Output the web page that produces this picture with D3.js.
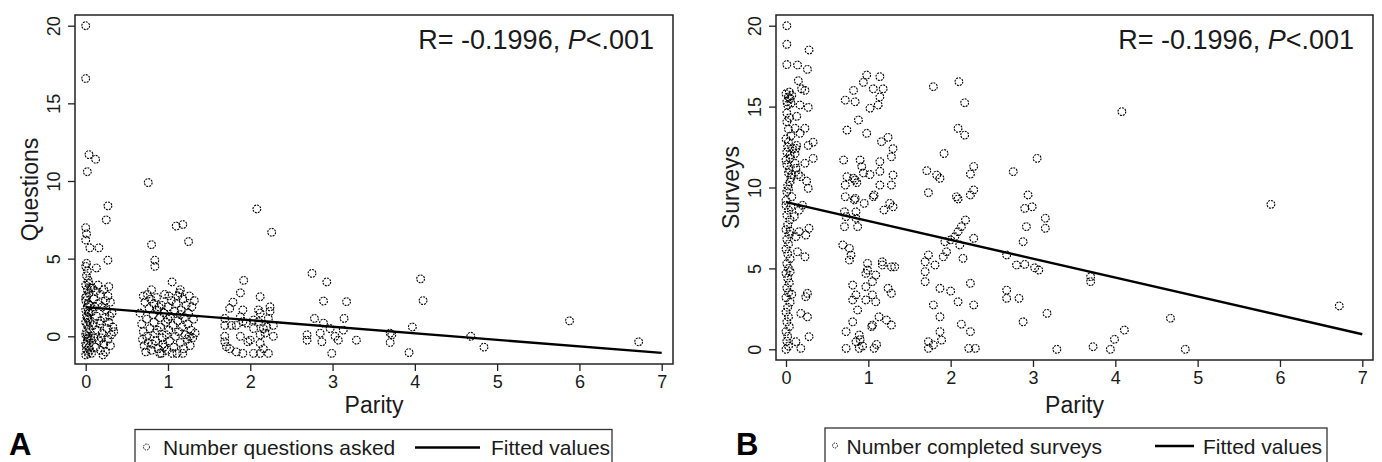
<!DOCTYPE html>
<html>
<head>
<meta charset="utf-8">
<script src="https://cdn.jsdelivr.net/npm/d3@7"></script>
<style>
  body { margin: 0; background: #fff; }
  svg { display: block; font-family: "Liberation Sans", Arial, sans-serif; }
</style>
</head>
<body>
<div id="chart"></div>
<script>
// Panel A: number of questions asked vs parity (jittered points)
const questionsData = [
  // parity ~0
  [0.00,20.0],[0.00,16.6],[0.02,10.6],[0.04,11.7],[0.12,11.4],
  [0.00,7.0],[0.01,6.6],[0.00,6.2],[0.05,5.7],[0.16,5.7],[0.13,4.4],[0.25,7.5],[0.27,8.4],[0.27,4.9],[0.01,4.7],
  [0.00,4.5],[0.02,4.2],[0.01,3.9],[0.03,3.6],[0.00,3.3],[0.02,3.0],[0.04,2.8],[0.01,2.6],[0.00,2.3],[0.03,2.1],
  [0.02,1.9],[0.00,1.7],[0.04,1.5],[0.01,1.3],[0.03,1.1],[0.00,0.9],[0.02,0.7],[0.04,0.5],[0.01,0.3],[0.00,0.1],
  [0.03,-0.1],[0.02,-0.3],[0.00,-0.5],[0.04,-0.7],[0.01,-0.9],[0.03,-1.1],[0.00,-1.2],[0.02,1.2],[0.05,2.0],
  [0.05,0.9],[0.06,-0.2],[0.05,-0.9],[0.06,3.1],[0.00,2.5],[0.02,0.0],[0.01,-0.6],[0.03,1.6],[0.04,3.4],
  [0.08,3.1],[0.12,2.9],[0.18,2.7],[0.22,3.0],[0.27,2.6],[0.30,2.2],[0.10,2.4],[0.15,2.1],[0.20,1.9],[0.25,1.7],
  [0.32,1.5],[0.08,1.6],[0.13,1.3],[0.18,1.0],[0.23,1.2],[0.28,0.9],[0.33,0.6],[0.09,0.7],[0.14,0.4],[0.20,0.2],
  [0.26,0.5],[0.31,0.1],[0.10,-0.1],[0.16,-0.3],[0.22,-0.5],[0.27,-0.2],[0.12,-0.7],[0.18,-0.9],[0.24,-1.0],
  [0.30,-0.6],[0.07,-1.1],[0.21,-1.2],[0.11,1.9],[0.17,0.8],[0.29,1.3],[0.24,2.3],[0.06,0.0],[0.19,-0.1],
  [0.34,0.3],[0.15,3.3],[0.28,3.2],
  // parity ~1
  [0.76,9.9],[0.80,5.9],[0.84,4.9],[0.84,4.5],[1.10,7.1],[1.18,7.2],[1.25,6.1],[1.05,3.5],[1.15,3.0],
  [0.66,1.5],[0.70,2.6],[0.72,2.2],[0.68,0.8],[0.70,0.3],[0.69,-0.2],[0.71,-0.6],[0.74,1.1],[0.75,2.7],
  [0.77,1.8],[0.78,0.5],[0.76,-0.4],[0.80,-0.9],[0.79,2.4],[0.82,1.4],[0.83,0.9],[0.84,0.2],[0.85,-0.3],
  [0.86,2.5],[0.87,1.7],[0.88,-0.8],[0.90,-1.1],[0.90,1.2],[0.91,0.6],[0.92,2.0],[0.93,-0.1],[0.94,-0.5],
  [0.95,1.5],[0.96,2.7],[0.97,0.9],[0.98,0.1],[0.99,-0.9],[1.00,1.9],[1.01,0.4],[1.02,-0.3],[1.03,1.3],
  [1.04,2.3],[1.06,0.7],[1.07,-0.7],[1.08,1.6],[1.09,0.0],[1.10,2.1],[1.11,-1.1],[1.12,1.0],[1.13,0.3],
  [1.14,2.8],[1.15,-0.4],[1.16,1.7],[1.17,0.6],[1.18,2.4],[1.19,-0.8],[1.20,1.2],[1.21,0.1],[1.22,2.0],
  [1.23,-0.2],[1.24,0.8],[1.25,1.5],[1.26,2.6],[1.27,-0.6],[1.28,0.4],[1.29,1.9],[1.30,-0.1],[1.31,1.1],
  [1.32,2.3],[1.33,0.2],[0.73,-1.0],[0.81,-0.5],[0.89,1.9],[1.00,1.1],[1.05,-1.1],[1.15,1.4],[0.95,-0.7],
  [1.12,2.6],[1.26,0.0],[0.87,0.4],[0.80,3.0],[0.74,0.0],[0.92,-1.1],[1.18,-1.1],[1.01,2.6],[0.83,2.1],
  // parity ~2
  [2.08,8.2],[2.26,6.7],[1.92,3.6],[1.88,2.8],[2.12,2.55],[1.79,2.2],[1.75,1.8],[1.91,1.7],[2.10,1.7],
  [2.24,1.9],[2.24,1.6],[1.69,1.15],[1.69,0.7],[1.77,0.7],[1.83,0.7],[1.91,0.95],[2.04,0.5],[2.10,0.95],
  [2.16,0.5],[2.22,1.15],[2.28,0.7],[2.28,0.0],[1.69,0.0],[1.69,-0.35],[1.88,0.0],[2.00,-0.25],[2.12,0.1],
  [2.12,-0.45],[1.75,-0.8],[1.83,-1.0],[1.91,-1.1],[2.04,-1.1],[2.12,-1.1],[2.22,-1.1],[2.16,-0.8],
  [1.97,-0.35],[2.20,0.6],[2.12,1.5],[2.04,1.05],[1.95,0.85],[2.18,0.2],[1.88,1.25],[1.71,-0.67],
  // parity 3 and above
  [2.75,4.05],[2.93,3.5],[2.89,2.27],[3.17,2.23],[2.78,1.15],[3.14,1.15],[2.89,0.85],[2.69,0.1],[2.69,-0.25],
  [2.85,0.2],[2.87,-0.35],[3.03,0.0],[3.07,-0.25],[3.13,0.4],[3.29,-0.25],[2.99,-1.1],[2.97,0.5],
  [3.70,0.2],[3.70,-0.4],[3.72,0.1],[3.97,0.6],[4.07,3.7],[4.10,2.3],[3.93,-1.05],[4.68,0.0],[4.84,-0.7],
  [5.88,1.0],[6.72,-0.35]
];

// Panel B: number of completed surveys vs parity
const surveysData = [
  // parity ~0
  [0.01,20.0],[0.01,18.85],[0.01,17.6],[0.14,17.57],[0.28,18.5],[0.26,17.3],[0.15,16.6],[0.19,16.1],[0.23,16.0],
  [0.00,15.8],[0.03,15.6],[0.05,15.5],[0.01,15.3],[0.07,15.7],[0.04,15.9],[0.02,15.1],[0.06,15.2],
  [0.17,15.1],[0.27,14.95],[0.13,14.4],[0.01,14.07],[0.04,14.3],[0.11,13.66],[0.23,13.66],[0.17,13.35],
  [0.03,12.8],[0.13,12.6],[0.27,12.6],[0.33,12.8],[0.01,12.2],[0.11,12.1],[0.33,11.8],[0.23,11.5],[0.11,11.5],
  [0.01,11.4],[0.03,10.9],[0.15,10.8],[0.25,10.4],[0.27,9.95],[0.05,10.35],[0.01,9.74],[0.07,9.43],
  [0.00,13.0],[0.02,12.5],[0.05,12.0],[0.00,11.7],[0.04,11.1],[0.06,10.6],[0.02,10.1],[0.00,9.2],[0.03,13.6],
  [0.06,13.2],[0.01,14.6],[0.05,11.8],[0.08,12.4],[0.07,10.8],[0.03,9.9],[0.12,12.42],[0.12,11.19],[0.18,10.67],
  [0.00,8.9],[0.03,8.6],[0.01,8.3],[0.05,8.0],[0.02,7.7],[0.00,7.4],[0.04,7.1],[0.01,6.8],[0.03,6.5],[0.00,6.2],
  [0.02,5.9],[0.05,5.6],[0.01,5.3],[0.03,5.0],[0.00,4.7],[0.02,4.4],[0.04,4.1],[0.01,3.8],[0.03,3.5],[0.00,3.2],
  [0.05,2.9],[0.02,2.6],[0.00,2.3],[0.03,2.0],[0.01,1.7],[0.04,1.4],[0.00,1.1],[0.02,0.8],[0.01,0.5],[0.03,0.2],
  [0.00,0.0],[0.05,7.3],[0.06,8.8],[0.07,3.4],[0.05,4.8],
  [0.16,8.6],[0.28,7.48],[0.24,7.06],[0.16,7.27],[0.12,6.96],[0.14,6.03],[0.23,5.72],[0.26,3.46],[0.24,3.25],
  [0.18,2.22],[0.26,2.01],[0.28,0.78],[0.12,0.47],[0.18,0.06],[0.10,8.2],[0.20,8.9],
  // parity ~1
  [0.72,15.4],[0.84,15.3],[0.82,16.0],[0.94,16.5],[0.98,16.95],[1.14,16.85],[1.06,16.1],[1.18,16.1],[1.14,15.6],
  [1.12,15.1],[1.02,14.9],[0.74,13.55],[0.88,14.17],[0.98,13.35],[1.16,12.83],[1.24,13.1],[1.30,12.4],[1.28,11.9],
  [0.70,11.7],[0.90,11.7],[0.92,11.3],[0.94,10.9],[1.14,11.6],[1.14,11.0],[1.02,10.8],[0.74,10.67],[0.82,10.57],
  [0.84,10.46],[0.72,10.15],[0.86,10.3],[1.30,10.77],[1.28,10.15],[1.14,10.15],[1.06,9.43],[0.72,9.43],[0.84,9.33],
  [0.83,9.23],[0.95,9.02],[1.07,9.54],[1.26,9.02],[1.19,8.61],[1.30,8.81],[0.71,8.5],[0.73,8.2],[0.85,8.5],
  [0.85,8.1],[0.71,7.58],[0.87,7.58],[0.69,6.45],[0.77,6.24],[0.79,5.83],[0.77,5.52],[0.99,5.31],[0.99,4.9],
  [0.97,4.69],[1.17,5.41],[1.17,5.21],[1.28,5.1],[1.32,5.1],[1.09,4.59],[1.05,4.18],[0.81,3.97],[0.97,3.87],
  [1.24,3.77],[1.28,3.46],[0.85,3.36],[1.05,3.36],[0.81,3.05],[0.97,3.05],[1.09,2.94],[0.87,2.43],[0.81,1.7],
  [1.13,2.01],[1.22,1.81],[1.28,1.5],[1.05,1.5],[0.89,0.88],[0.73,1.09],[0.73,0.06],[0.85,0.47],[0.89,0.06],
  [1.07,0.06],[0.93,0.2],[1.10,0.3],[0.90,0.6],[1.04,1.4],
  // parity ~2
  [1.79,16.23],[2.10,16.54],[2.17,15.24],[2.09,13.66],[2.17,13.24],[1.92,12.1],[1.71,11.04],[1.83,10.77],
  [1.87,10.57],[2.28,11.3],[2.24,10.83],[1.73,9.68],[2.07,9.43],[2.28,9.85],[2.24,9.54],[2.09,9.29],[2.18,7.99],
  [2.13,7.58],[2.09,7.27],[2.05,6.96],[2.00,6.76],[1.93,6.65],[2.11,6.45],[2.28,6.86],[2.15,5.62],[1.73,5.83],
  [1.69,5.41],[1.91,5.72],[1.95,6.03],[1.81,5.21],[1.69,4.8],[1.69,4.18],[2.24,4.08],[1.87,3.77],[2.00,3.6],
  [2.09,2.94],[1.79,2.74],[2.28,2.74],[1.87,2.01],[2.13,1.55],[2.24,1.09],[1.87,1.09],[1.89,0.57],[1.73,0.47],
  [1.73,0.06],[1.79,0.27],[2.22,0.06],[2.30,0.06],
  // parity 3 and above
  [2.76,10.98],[3.05,11.8],[2.94,9.54],[2.90,8.71],[2.99,8.81],[3.15,8.1],[3.15,7.48],[2.92,7.58],[2.88,6.65],
  [2.68,5.83],[2.80,5.21],[2.90,5.25],[3.02,5.04],[3.07,4.9],[2.68,3.66],[2.68,3.15],[2.83,3.15],[3.17,2.22],
  [2.88,1.7],[3.29,0.0],[3.70,4.49],[3.70,4.18],[3.73,0.16],[3.94,0.0],[3.99,0.62],[4.08,14.69],[5.89,8.96],
  [6.72,2.68],[4.67,1.92],[4.11,1.19],[4.85,0.0]
];

// fitted regression lines (endpoints at parity 0 and 7)
const fittedA = [[0, 1.88], [7, -1.07]];
const fittedB = [[0, 9.1], [7, 0.93]];

const xTicks = [0, 1, 2, 3, 4, 5, 6, 7];
const yTicks = [0, 5, 10, 15, 20];
const annotation = "R= -0.1996, ";

const width = 1382, height = 462;
const svg = d3.select("#chart")
    .append("svg")
    .attr("width", width)
    .attr("height", height);

const ink = "#1a1a1a";

function drawPanel(cfg) {
    const g = svg.append("g");

    const x = d3.scaleLinear().domain([0, 7]).range(cfg.xRange);
    const y = d3.scaleLinear().domain([0, 20]).range(cfg.yRange);

    // points
    g.selectAll("circle.pt")
        .data(cfg.data)
        .enter()
        .append("circle")
        .attr("class", "pt")
        .attr("cx", d => x(d[0]))
        .attr("cy", d => y(d[1]))
        .attr("r", 3.9)
        .attr("fill", "none")
        .attr("stroke", "#000")
        .attr("stroke-width", 1.1)
        .attr("stroke-dasharray", "2,1");

    // fitted line
    g.append("path")
        .datum(cfg.fit)
        .attr("d", d3.line().x(d => x(d[0])).y(d => y(d[1])))
        .attr("stroke", "#000")
        .attr("stroke-width", 2.4)
        .attr("fill", "none");

    // frame
    const f = cfg.frame;
    g.append("rect")
        .attr("x", f.x0).attr("y", f.y0)
        .attr("width", f.x1 - f.x0).attr("height", f.y1 - f.y0)
        .attr("fill", "none")
        .attr("stroke", "#222")
        .attr("stroke-width", 1.5);

    // x axis
    const xa = g.append("g")
        .attr("transform", `translate(0,${f.y1})`)
        .call(d3.axisBottom(x).tickValues(xTicks).tickSize(7).tickPadding(4).tickFormat(d3.format("d")));
    xa.select(".domain").remove();
    xa.selectAll("line").attr("stroke", "#222").attr("stroke-width", 1.3);
    xa.selectAll("text").attr("font-size", 18).attr("fill", ink)
        .attr("font-family", "Liberation Sans, Arial, sans-serif");

    // y axis with rotated labels
    const ya = g.append("g")
        .attr("transform", `translate(${f.x0},0)`)
        .call(d3.axisLeft(y).tickValues(yTicks).tickSize(7).tickFormat(d3.format("d")));
    ya.select(".domain").remove();
    ya.selectAll("line").attr("stroke", "#222").attr("stroke-width", 1.3);
    ya.selectAll("text")
        .attr("x", 0).attr("y", -15).attr("dy", null)
        .attr("transform", "rotate(-90)")
        .attr("text-anchor", "middle")
        .attr("font-size", 18).attr("fill", ink)
        .attr("font-family", "Liberation Sans, Arial, sans-serif");

    // axis titles
    g.append("text")
        .attr("x", (f.x0 + f.x1) / 2).attr("y", 413)
        .attr("text-anchor", "middle")
        .attr("font-size", 23).attr("fill", ink)
        .text("Parity");
    g.append("text")
        .attr("transform", `translate(${f.x0 - 37.5},${(f.y0 + f.y1) / 2}) rotate(-90)`)
        .attr("text-anchor", "middle")
        .attr("font-size", 23).attr("fill", ink)
        .text(cfg.yTitle);

    // annotation
    const ann = g.append("text")
        .attr("x", f.x1 - 19).attr("y", 49)
        .attr("text-anchor", "end")
        .attr("font-size", 27).attr("fill", ink);
    ann.append("tspan").text(annotation);
    ann.append("tspan").attr("font-style", "italic").text("P");
    ann.append("tspan").text("<.001");

    // panel letter
    g.append("text")
        .attr("x", cfg.letterX).attr("y", 455)
        .attr("font-size", 31).attr("font-weight", "bold").attr("fill", "#000")
        .text(cfg.letter);

    // legend
    const L = cfg.legend;
    g.append("rect")
        .attr("x", L.x0).attr("y", L.y0)
        .attr("width", L.x1 - L.x0).attr("height", 60)
        .attr("fill", "none").attr("stroke", "#333").attr("stroke-width", 1.3);
    g.append("circle")
        .attr("cx", L.markX).attr("cy", L.y0 + 17.5).attr("r", L.markR)
        .attr("fill", "none").attr("stroke", "#111").attr("stroke-width", 1)
        .attr("stroke-dasharray", "1.5,1");
    g.append("text")
        .attr("x", L.textX).attr("y", L.y0 + 25.5)
        .attr("font-size", 21).attr("fill", ink)
        .text(cfg.seriesName);
    g.append("line")
        .attr("x1", L.lineX0).attr("x2", L.lineX1)
        .attr("y1", L.y0 + 18).attr("y2", L.y0 + 18)
        .attr("stroke", "#000").attr("stroke-width", 2.4);
    g.append("text")
        .attr("x", L.fitTextX).attr("y", L.y0 + 25.5)
        .attr("font-size", 21).attr("fill", ink)
        .text("Fitted values");
}

drawPanel({
    data: questionsData,
    fit: fittedA,
    xRange: [85.7, 661.7],
    yRange: [336.3, 25.7],
    frame: { x0: 75, x1: 673, y0: 15, y1: 364 },
    yTitle: "Questions",
    seriesName: "Number questions asked",
    letter: "A",
    letterX: 9,
    legend: { x0: 135, x1: 612, y0: 429.5, markX: 146.5, markR: 3, textX: 163,
              lineX0: 415, lineX1: 480, fitTextX: 491 }
});

drawPanel({
    data: surveysData,
    fit: fittedB,
    xRange: [786, 1362.3],
    yRange: [349.3, 25.7],
    frame: { x0: 776, x1: 1373, y0: 15, y1: 360 },
    yTitle: "Surveys",
    seriesName: "Number completed surveys",
    letter: "B",
    letterX: 736,
    legend: { x0: 825, x1: 1327, y0: 428, markX: 835, markR: 2.5, textX: 846.5,
              lineX0: 1155, lineX1: 1194, fitTextX: 1203 }
});
</script>
</body>
</html>
